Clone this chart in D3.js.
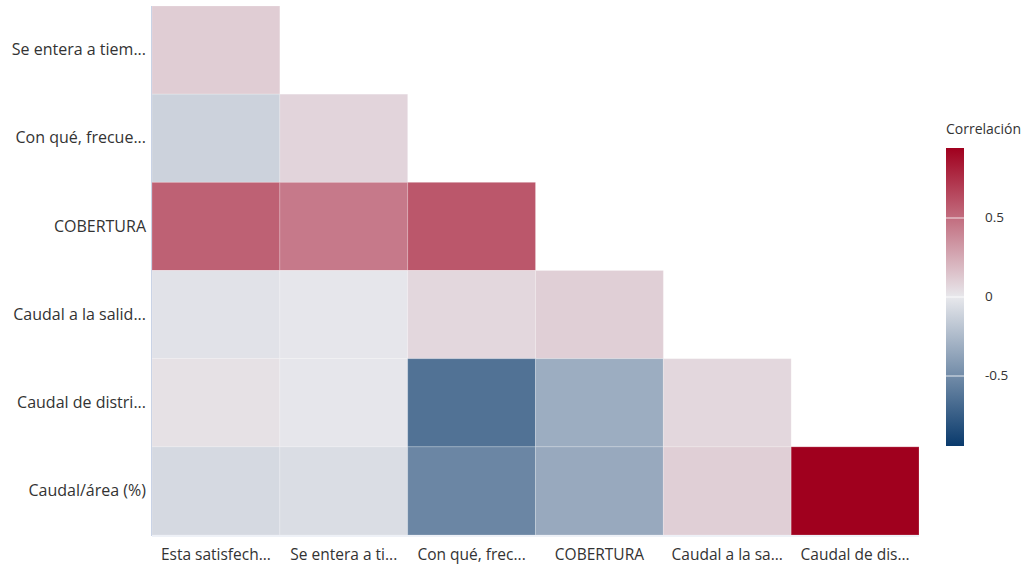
<!DOCTYPE html>
<html>
<head>
<meta charset="utf-8">
<script src="https://cdn.jsdelivr.net/npm/d3@7"></script>
<style>
  body { margin: 0; background: #fff; }
  text { font-family: "Open Sans", "Noto Sans", sans-serif; fill: #333; }
</style>
</head>
<body>
<svg id="chart" width="1030" height="569"></svg>
<script>
// row labels (y) and column labels (x)
var rowLabels = ["Se entera a tiem...", "Con qué, frecue...", "COBERTURA", "Caudal a la salid...", "Caudal de distri...", "Caudal/área (%)"];
var colLabels = ["Esta satisfech...", "Se entera a ti...", "Con qué, frec...", "COBERTURA", "Caudal a la sa...", "Caudal de dis..."];

// lower triangle correlations, one row per rowLabel
var corrRows = [
  [0.11],
  [-0.12, 0.08],
  [0.55, 0.45, 0.59],
  [-0.03, -0.01, 0.07, 0.10],
  [0.03, -0.01, -0.64, -0.32, 0.07],
  [-0.08, -0.06, -0.53, -0.34, 0.10, 0.943]
];
var legendTicks = [0.5, 0, -0.5];
var maxAbs = 0.943;

var svg = d3.select("#chart");

var plotL = 152, plotR = 919, plotT = 6, plotB = 535;

var x = d3.scaleBand().domain(colLabels).range([plotL, plotR]);
var y = d3.scaleBand().domain(rowLabels).range([plotT, plotB]);

var color = d3.scaleLinear()
  .domain([-maxAbs, 0, maxAbs])
  .range(["#093a6c", "#e8e8ec", "#a0001e"]);

var cells = [];
corrRows.forEach(function(r, i) {
  r.forEach(function(v, j) {
    cells.push({ row: rowLabels[i], col: colLabels[j], v: v });
  });
});

svg.append("g").selectAll("rect")
  .data(cells)
  .enter().append("rect")
  .attr("x", function(d) { return x(d.col); })
  .attr("y", function(d) { return y(d.row); })
  .attr("width", x.bandwidth())
  .attr("height", y.bandwidth())
  .attr("fill", function(d) { return color(d.v); })
  .attr("stroke", "#fff")
  .attr("stroke-opacity", 0.2)
  .attr("stroke-width", 1);

// faint axis lines
svg.append("line")
  .attr("x1", plotL - 0.5).attr("x2", plotL - 0.5)
  .attr("y1", plotT).attr("y2", plotB + 1)
  .attr("stroke", "#c9d3e6");
svg.append("line")
  .attr("x1", plotL).attr("x2", plotR)
  .attr("y1", plotB + 1).attr("y2", plotB + 1)
  .attr("stroke", "#dde3ef");

// axis labels
var yAxis = svg.append("g")
  .attr("transform", "translate(" + (plotL - 6) + ",0)")
  .call(d3.axisLeft(y).tickSize(0).tickPadding(0));
yAxis.select(".domain").remove();
yAxis.selectAll("text").style("font-size", "16px").attr("fill", "#333");

var xAxis = svg.append("g")
  .attr("transform", "translate(0," + (plotB + 14) + ")")
  .call(d3.axisBottom(x).tickSize(0).tickPadding(0));
xAxis.select(".domain").remove();
xAxis.selectAll("text").style("font-size", "15.5px").attr("fill", "#333");
svg.selectAll("g").attr("font-family", null).attr("font-size", null);

// legend colour bar
var lgX = 946, lgW = 18, lgTop = 148, lgBot = 446;
var ly = d3.scaleLinear().domain([maxAbs, -maxAbs]).range([lgTop, lgBot]);

var defs = svg.append("defs");
var grad = defs.append("linearGradient")
  .attr("id", "lg").attr("x1", 0).attr("x2", 0).attr("y1", 0).attr("y2", 1);
[maxAbs, 0, -maxAbs].forEach(function(v, i) {
  grad.append("stop").attr("offset", (i * 50) + "%").attr("stop-color", color(v));
});

svg.append("rect")
  .attr("x", lgX).attr("y", lgTop)
  .attr("width", lgW).attr("height", lgBot - lgTop)
  .attr("fill", "url(#lg)");

svg.append("g").selectAll("line")
  .data(legendTicks)
  .enter().append("line")
  .attr("x1", lgX).attr("x2", lgX + lgW)
  .attr("y1", function(d) { return ly(d); })
  .attr("y2", function(d) { return ly(d); })
  .attr("stroke", "#fff").attr("stroke-opacity", 0.55).attr("stroke-width", 1.5);

svg.append("g").selectAll("text")
  .data(legendTicks)
  .enter().append("text")
  .attr("x", 985)
  .attr("y", function(d) { return ly(d) + 4; })
  .style("font-size", "13.5px")
  .text(function(d) { return d; });

svg.append("text")
  .attr("x", 946).attr("y", 134)
  .style("font-size", "14px")
  .text("Correlación");
</script>
</body>
</html>
